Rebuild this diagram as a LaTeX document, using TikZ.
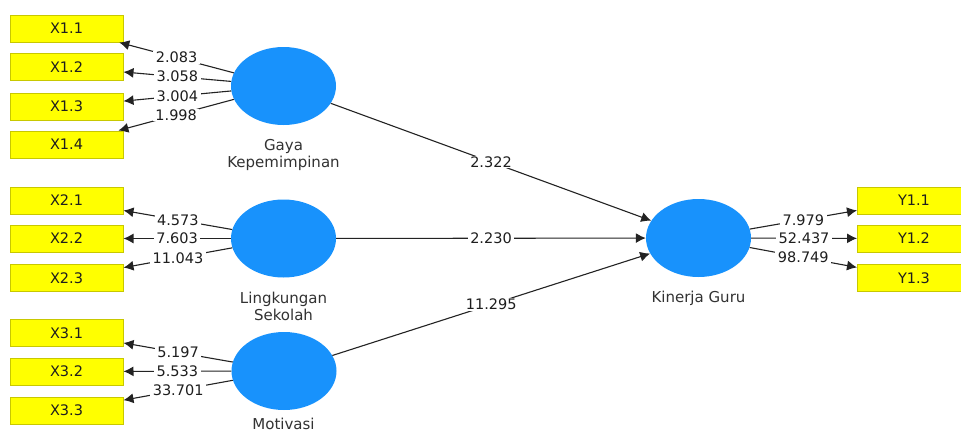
\documentclass[tikz,border=0pt]{standalone}
\usepackage{fontspec}
\setmainfont{DejaVu Sans}
\usetikzlibrary{shapes.geometric,arrows.meta}
\definecolor{lvblue}{RGB}{24,146,252}
\definecolor{mvyellow}{RGB}{255,255,0}
\definecolor{mvborder}{RGB}{200,200,0}
\definecolor{txt}{RGB}{30,30,30}
\definecolor{lbl}{RGB}{50,50,50}
\definecolor{ln}{RGB}{35,35,35}
\tikzset{
  mv/.style={draw=mvborder, line width=1pt, fill=mvyellow, minimum width=113pt, minimum height=27pt, inner sep=0pt, text=txt, font=\fontsize{14.5}{16}\selectfont},
  lv/.style={ellipse, fill=lvblue, minimum width=105pt, minimum height=78pt, inner sep=0pt},
  lvlabel/.style={align=center, text=lbl, font=\fontsize{15}{17}\selectfont, inner sep=0pt},
  conn/.style={draw=ln, line width=1.1pt, -{Latex[length=10pt,width=10pt]}},
  val/.style={midway, fill=white, inner xsep=2.5pt, inner ysep=0.8pt, text=txt, font=\fontsize{14.5}{16}\selectfont}
}
\begin{document}
\begin{tikzpicture}[x=1pt,y=-1pt]
\clip (0,0) rectangle (961,434);
\fill[white] (0,0) rectangle (961,434);
% indicators
\node[mv] (x11) at (66.5,28.5) {X1.1};
\node[mv] (x12) at (66.5,67) {X1.2};
\node[mv] (x13) at (66.5,106.5) {X1.3};
\node[mv] (x14) at (66.5,144.5) {X1.4};
\node[mv] (x21) at (66.5,200.5) {X2.1};
\node[mv] (x22) at (66.5,238.5) {X2.2};
\node[mv] (x23) at (66.5,278) {X2.3};
\node[mv] (x31) at (66.5,333) {X3.1};
\node[mv] (x32) at (66.5,371.5) {X3.2};
\node[mv] (x33) at (66.5,410.5) {X3.3};
\node[mv] (y11) at (914,200.5) {Y1.1};
\node[mv] (y12) at (914,238.5) {Y1.2};
\node[mv] (y13) at (914,278) {Y1.3};
% latent variables
\node[lv] (gaya) at (283.5,86) {};
\node[lv] (ling) at (283.5,238.5) {};
\node[lv] (mot) at (284,371) {};
\node[lv] (kin) at (698.5,238) {};
\node[lvlabel] (gayal) at (283.5,155) {Gaya\\Kepemimpinan};
\node[lvlabel] (lingl) at (283.5,306) {Lingkungan\\Sekolah};
\node[lvlabel] (motl) at (283.5,424) {Motivasi};
\node[lvlabel] (kinl) at (698.5,298) {Kinerja Guru};
% outer loadings
\draw[conn] (gaya) -- node[val] {2.083} (x11);
\draw[conn] (gaya) -- node[val] {3.058} (x12);
\draw[conn] (gaya) -- node[val] {3.004} (x13);
\draw[conn] (gaya) -- node[val] {1.998} (x14);
\draw[conn] (ling) -- node[val] {4.573} (x21);
\draw[conn] (ling) -- node[val] {7.603} (x22);
\draw[conn] (ling) -- node[val] {11.043} (x23);
\draw[conn] (mot) -- node[val] {5.197} (x31);
\draw[conn] (mot) -- node[val] {5.533} (x32);
\draw[conn] (mot) -- node[val] {33.701} (x33);
\draw[conn] (kin) -- node[val] {7.979} (y11);
\draw[conn] (kin) -- node[val] {52.437} (y12);
\draw[conn] (kin) -- node[val] {98.749} (y13);
% paths
\draw[conn] (gaya) -- node[val] {2.322} (kin);
\draw[conn] (ling) -- node[val] {2.230} (kin);
\draw[conn] (mot) -- node[val] {11.295} (kin);
\end{tikzpicture}
\end{document}
